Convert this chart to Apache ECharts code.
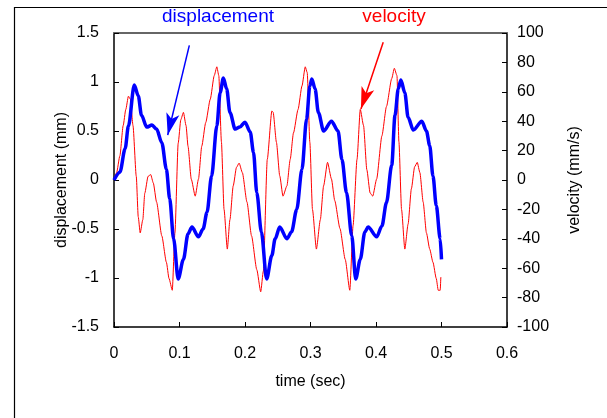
<!DOCTYPE html>
<html>
<head>
<meta charset="utf-8">
<script src="https://cdn.jsdelivr.net/npm/echarts@6/dist/echarts.min.js"></script>
<style>
html,body{margin:0;padding:0;background:#fff;}
#chart{width:607px;height:418px;}
</style>
</head>
<body>
<div id="chart"></div>
<script>
// ---- data ----
var dispTime = [0,0.009,0.017,0.022,0.031,0.037,0.042,0.050,0.058,0.065,0.073,0.080,0.085,0.091,0.098,0.106,0.113,0.119,0.129,0.136,0.142,0.149,0.157,0.162,0.167,0.172,0.177,0.185,0.192,0.200,0.208,0.213,0.218,0.225,0.233,0.241,0.246,0.253,0.264,0.271,0.279,0.287,0.294,0.299,0.302,0.307,0.312,0.320,0.332,0.342,0.348,0.355,0.363,0.369,0.376,0.383,0.388,0.401,0.409,0.416,0.424,0.429,0.434,0.438,0.444,0.449,0.457,0.470,0.477,0.482,0.487,0.492,0.498,0.500];
var dispValue = [0,0.08,0.32,0.55,0.97,0.86,0.66,0.54,0.56,0.52,0.38,0.11,-0.19,-0.60,-1.01,-0.81,-0.55,-0.48,-0.58,-0.50,-0.33,0.04,0.55,0.89,1.04,0.93,0.69,0.52,0.54,0.59,0.49,0.28,-0.13,-0.53,-1.01,-0.77,-0.60,-0.48,-0.60,-0.53,-0.30,0.11,0.62,0.96,1.03,0.93,0.69,0.50,0.60,0.50,0.21,-0.13,-0.57,-1.01,-0.81,-0.53,-0.48,-0.58,-0.47,-0.23,0.15,0.66,0.93,1.02,0.89,0.64,0.51,0.60,0.50,0.35,0.04,-0.26,-0.60,-0.81];

var velTime = [0,0.004,0.009,0.014,0.018,0.022,0.025,0.029,0.034,0.037,0.040,0.044,0.047,0.052,0.056,0.060,0.065,0.073,0.080,0.084,0.089,0.093,0.098,0.102,0.106,0.110,0.113,0.118,0.124,0.129,0.134,0.140,0.147,0.153,0.157,0.160,0.164,0.168,0.173,0.177,0.182,0.187,0.191,0.196,0.203,0.210,0.218,0.224,0.228,0.234,0.241,0.243,0.248,0.253,0.258,0.264,0.269,0.274,0.281,0.287,0.292,0.295,0.299,0.303,0.309,0.315,0.320,0.326,0.332,0.337,0.345,0.353,0.360,0.365,0.371,0.376,0.381,0.386,0.391,0.395,0.401,0.409,0.416,0.424,0.428,0.432,0.435,0.439,0.444,0.449,0.454,0.459,0.463,0.467,0.472,0.477,0.482,0.487,0.492,0.495,0.498,0.499];
var velValue = [0,5,16.5,37,48,57,55,37,2.5,-25,-36,-27,-9,2.5,3.7,-2,-15,-38,-56,-67,-75,-36,25,41,46,37,23,0.5,-11,0.7,23,39,55,71,77,71,26,-20,-47,-27,-4,8.6,11.5,5,-15,-38,-61,-76,-62,14,47,46,25.6,2.9,-11,-4,14,32,48,64,77,73,25.6,-20,-47,-27,-4,12,0.7,-14,-33,-54,-75,-31,14,48,37,7,-8.8,-11,0.7,30,50,69,76,71,26,-20,-47,-30,-6,9,12,5,-15,-36,-47,-56,-67,-75,-75,-66];

// annotation arrows: [start, end] in data units
var dispArrow = [[0.115, 1.373], [0.082, 0.458]];
var velArrow = [[0.411, 93.7], [0.377, 48.3]];

var seriesNames = ['displacement', 'velocity'];
var xAxisName = 'time (sec)';
var leftAxisName = 'displacement (mm)';
var rightAxisName = 'velocity (mm/s)';

function pairs(t, v) { return t.map(function (x, i) { return [x, v[i]]; }); }

var FONT = '"Liberation Sans", Arial, Helvetica, sans-serif';
var chart = echarts.init(document.getElementById('chart'), null, {renderer: 'canvas'});

chart.setOption({
  animation: false,
  backgroundColor: '#ffffff',
  textStyle: {fontFamily: FONT},
  grid: {left: 114, right: 100, top: 33, bottom: 91},
  graphic: [
    {type: 'rect', silent: true, z: -1,
     shape: {x: 14.5, y: 7.5, width: 640, height: 440},
     style: {fill: 'none', stroke: '#000', lineWidth: 1.2}},
    {type: 'text', silent: true, x: 218, y: 17,
     style: {text: seriesNames[0], fill: '#0000ff', font: '19px ' + FONT, textAlign: 'center', textVerticalAlign: 'middle'}},
    {type: 'text', silent: true, x: 394, y: 17,
     style: {text: seriesNames[1], fill: '#ff0000', font: '19px ' + FONT, textAlign: 'center', textVerticalAlign: 'middle'}}
  ],
  xAxis: [
    {type: 'value', position: 'bottom', min: 0, max: 0.6, interval: 0.1,
     name: xAxisName, nameLocation: 'middle', nameGap: 47, nameMoveOverlap: false,
     nameTextStyle: {color: '#000', fontSize: 16, fontFamily: FONT},
     axisLine: {show: true, onZero: false, lineStyle: {color: '#000', width: 1.5}},
     axisTick: {show: true, inside: true, length: 5, lineStyle: {color: '#000', width: 1}},
     axisLabel: {color: '#000', fontSize: 16, fontFamily: FONT, margin: 19,
                 formatter: function (v) { return String(+v.toFixed(1)); }},
     splitLine: {show: false}},
    {type: 'value', position: 'top', min: 0, max: 0.6, interval: 0.1,
     axisLine: {show: true, onZero: false, lineStyle: {color: '#666', width: 2}},
     axisTick: {show: false}, axisLabel: {show: false}, splitLine: {show: false}}
  ],
  yAxis: [
    {type: 'value', position: 'left', min: -1.5, max: 1.5, interval: 0.5,
     name: leftAxisName, nameLocation: 'middle', nameGap: 44, nameRotate: 90, nameMoveOverlap: false,
     nameTextStyle: {color: '#000', fontSize: 16, fontFamily: FONT},
     axisLine: {show: true, onZero: false, lineStyle: {color: '#000', width: 1.5}},
     axisTick: {show: true, inside: true, length: 5, lineStyle: {color: '#000', width: 1}},
     axisLabel: {color: '#000', fontSize: 16, fontFamily: FONT, margin: 15,
                 formatter: function (v) { return String(+v.toFixed(1)); }},
     splitLine: {show: false}},
    {type: 'value', position: 'right', min: -100, max: 100, interval: 20,
     name: rightAxisName, nameLocation: 'middle', nameGap: 60, nameRotate: 90, nameMoveOverlap: false,
     nameTextStyle: {color: '#000', fontSize: 16, fontFamily: FONT},
     axisLine: {show: true, onZero: false, lineStyle: {color: '#000', width: 1.5}},
     axisTick: {show: true, inside: true, length: 5, lineStyle: {color: '#000', width: 1}},
     axisLabel: {color: '#000', fontSize: 16, fontFamily: FONT, margin: 10},
     splitLine: {show: false}}
  ],
  series: [
    {name: seriesNames[1], type: 'line', xAxisIndex: 0, yAxisIndex: 1,
     data: pairs(velTime, velValue), showSymbol: false, symbol: 'none',
     smooth: 0.2, smoothMonotone: 'x',
     lineStyle: {color: '#ff0000', width: 1}, z: 2,
     markLine: {silent: true, symbol: ['none', 'arrow'], symbolSize: [10, 22],
       label: {show: false}, lineStyle: {color: '#ff0000', width: 1.5, type: 'solid'},
       emphasis: {disabled: true},
       data: [[{coord: velArrow[0]}, {coord: velArrow[1]}]]}},
    {name: seriesNames[0], type: 'line', xAxisIndex: 0, yAxisIndex: 0,
     data: pairs(dispTime, dispValue), showSymbol: false, symbol: 'none',
     smooth: 0.3, smoothMonotone: 'x',
     lineStyle: {color: '#0000ff', width: 3.5}, z: 3,
     markLine: {silent: true, symbol: ['none', 'arrow'], symbolSize: [10, 22],
       label: {show: false}, lineStyle: {color: '#0000ff', width: 1.5, type: 'solid'},
       emphasis: {disabled: true},
       data: [[{coord: dispArrow[0]}, {coord: dispArrow[1]}]]}}
  ]
});
</script>
</body>
</html>
